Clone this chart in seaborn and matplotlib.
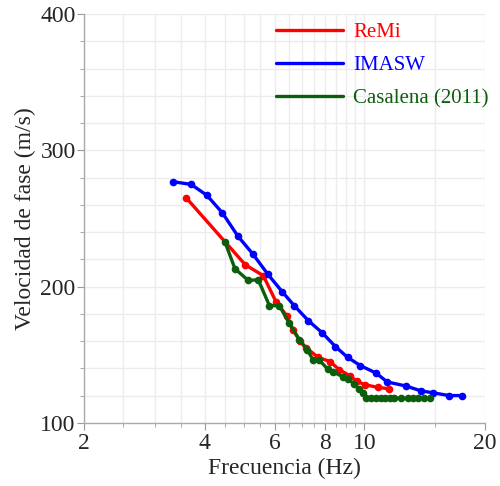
import numpy as np
import pandas as pd
import matplotlib.pyplot as plt
import seaborn as sns
from matplotlib.ticker import FixedLocator, FixedFormatter, NullFormatter

# Curvas de dispersion
remi_f = [3.60, 5.05, 5.60, 6.02, 6.41, 6.65, 6.91, 7.16, 7.68, 8.21, 8.66, 9.21, 9.57, 10.04, 10.80, 11.54]
remi_v = [265, 216, 208, 189, 178.5, 168, 160, 155, 148, 145, 139, 134.5, 130.5, 128, 126, 125]

imasw_f = [3.33, 3.70, 4.05, 4.43, 4.84, 5.27, 5.75, 6.25, 6.69, 7.25, 7.86, 8.47, 9.09, 9.78,
           10.70, 11.41, 12.71, 13.83, 14.86, 16.27, 17.52]
imasw_v = [277, 275, 267, 254, 237, 224, 209, 196, 186, 175, 166, 156, 148, 142,
           136.5, 130, 127, 123.5, 122, 120, 120]

casa_f = [4.49, 4.76, 5.14, 5.44, 5.80, 6.14, 6.50, 6.89, 7.21, 7.46, 7.72, 8.11, 8.37, 8.87,
          9.12, 9.43, 9.72, 9.95, 10.10, 10.39, 10.70, 10.99, 11.26, 11.59, 11.88, 12.35,
          12.83, 13.25, 13.64, 14.12, 14.59]
casa_v = [233, 213, 204.5, 205, 186, 186, 173, 161, 153.5, 146, 146, 139.4, 137.4, 133.5,
          132, 128.6, 124.7, 121.8, 118, 118, 118, 118, 118, 118, 118, 118,
          118, 118, 118, 118, 118]

labels = ["ReMi", "IMASW", "Casalena (2011)"]
colors = ["#ff0000", "#0000ff", "#0b5e0b"]

df = pd.concat([
    pd.DataFrame({"f": remi_f, "v": remi_v, "serie": labels[0]}),
    pd.DataFrame({"f": imasw_f, "v": imasw_v, "serie": labels[1]}),
    pd.DataFrame({"f": casa_f, "v": casa_v, "serie": labels[2]}),
])

sns.set_style("white")
plt.rcParams['font.family'] = ['Liberation Serif', 'DejaVu Serif']

fig = plt.figure(figsize=(5, 4.86), dpi=100)
ax = fig.add_axes([0.168, 0.13, 0.802, 0.841])

sns.lineplot(data=df, x="f", y="v", hue="serie", palette=colors, sort=False,
             marker="o", markersize=5.5, markeredgewidth=0, linewidth=2.4,
             ax=ax, legend=False)

ax.set_xscale("log")
ax.set_xlim(2, 20)
ax.set_ylim(100, 400)

major_x = [2, 4, 6, 8, 10, 20]
minor_x = [v for v in np.arange(2.5, 10, 0.5) if v not in major_x] + [15]
ax.xaxis.set_major_locator(FixedLocator(major_x))
ax.xaxis.set_major_formatter(FixedFormatter([str(v) for v in major_x]))
ax.xaxis.set_minor_locator(FixedLocator(minor_x))
ax.xaxis.set_minor_formatter(NullFormatter())
ax.yaxis.set_major_locator(FixedLocator([100, 200, 300, 400]))
ax.yaxis.set_minor_locator(FixedLocator([v for v in range(120, 400, 20) if v % 100]))

ax.grid(True, which="both", color="#ececec", linewidth=1)
for s in ["top", "right"]:
    ax.spines[s].set_visible(False)
for s in ["left", "bottom"]:
    ax.spines[s].set_color("#aaaaaa")
    ax.spines[s].set_linewidth(1)

ax.tick_params(which="major", direction="out", length=5, color="#999999", labelsize=17, pad=1)
ax.tick_params(axis="x", which="major", pad=2)
ax.tick_params(which="minor", direction="out", length=3, color="#999999")
ax.tick_params(axis="both", which="both", bottom=True, left=True)

ax.set_xlabel("Frecuencia (Hz)", fontsize=17, labelpad=3)
ax.set_ylabel("Velocidad de fase (m/s)", fontsize=17, labelpad=3)

handles = [plt.Line2D([], [], color=c, linewidth=2.4) for c in colors]
leg = ax.legend(handles, labels, loc="upper right", frameon=False, fontsize=15,
                handlelength=3.2, handletextpad=0.5, labelspacing=0.65,
                borderaxespad=0.0, bbox_to_anchor=(1.03, 1.0))
for txt, c in zip(leg.get_texts(), colors):
    txt.set_color(c)

fig.savefig("out.png", dpi=100)
